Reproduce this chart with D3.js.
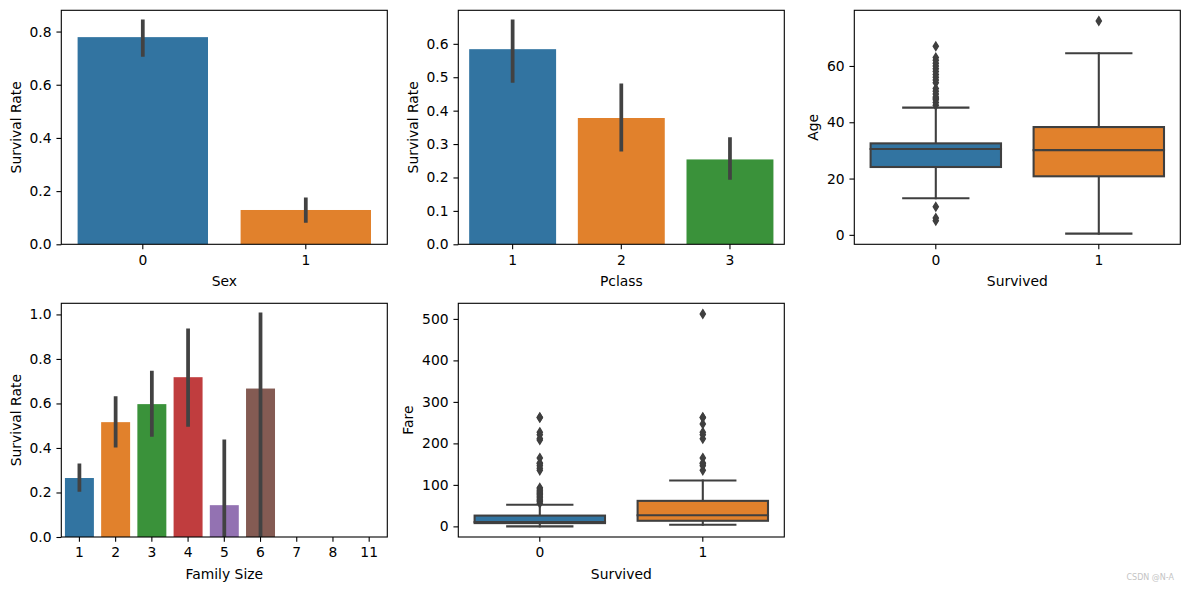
<!DOCTYPE html>
<html><head><meta charset="utf-8">
<script src="https://cdn.jsdelivr.net/npm/d3@7"></script>
<style>
body{margin:0;background:#fff}
svg{display:block}
text{font-family:"DejaVu Sans",sans-serif}
</style>
</head><body>
<svg id="c" width="1189" height="590"></svg>
<script>
// ---------------- data ----------------
const sexCats = ["0", "1"];
const sexRate = [0.779, 0.129];
const sexLo   = [0.712, 0.088];
const sexHi   = [0.838, 0.169];
const sexTicks = [0, 0.2, 0.4, 0.6, 0.8];

const pclassCats = ["1", "2", "3"];
const pclassRate = [0.584, 0.378, 0.254];
const pclassLo   = [0.489, 0.283, 0.199];
const pclassHi   = [0.667, 0.476, 0.315];
const pclassTicks = [0, 0.1, 0.2, 0.3, 0.4, 0.5, 0.6];

const famCats = ["1", "2", "3", "4", "5", "6", "7", "8", "11"];
const famRate = [0.265, 0.516, 0.597, 0.718, 0.143, 0.667, 0, 0, 0];
const famLo   = [0.212, 0.410, 0.459, 0.504, 0, 0, 0, 0, 0];
const famHi   = [0.322, 0.624, 0.739, 0.928, 0.430, 1.0, 0, 0, 0];
const famTicks = [0, 0.2, 0.4, 0.6, 0.8, 1.0];

const survCats = ["0", "1"];
const ageQ1  = [24.1, 20.8];
const ageMed = [30.5, 30.1];
const ageQ3  = [32.5, 38.3];
const ageWLo = [13, 0.42];
const ageWHi = [45.2, 64.5];
const ageOut = [
  [46, 47, 48, 48.5, 49, 50, 51, 52, 54, 55, 56, 57, 58, 59, 60, 61, 62, 63, 67, 10, 6, 5],
  [76]
];
const ageTicks = [0, 20, 40, 60];

const fareQ1  = [7.9, 13.5];
const fareMed = [10.5, 27];
const fareQ3  = [26, 61.5];
const fareWLo = [0, 4];
const fareWHi = [52, 110.5];
const fareOut = [
  [56, 60, 63, 66, 70, 73, 77, 80, 83, 86, 90, 93, 135, 140, 146, 151, 153, 165, 208, 212, 221, 227, 262, 263],
  [135, 146, 151, 153, 165, 211, 221, 227, 247, 262, 263, 512]
];
const fareTicks = [0, 100, 200, 300, 400, 500];

const palette = ["#3274a1", "#e1812c", "#3a923a", "#c03d3e", "#9372b2", "#845b53", "#d684bd", "#7f7f7f", "#a9aa35"];

// ---------------- layout ----------------
const svg = d3.select("#c");
svg.append("rect").attr("width", 1189).attr("height", 590).attr("fill", "#fff");

const FS = 13.89;
const TICK = 4.86;
const GRAY = "#3f3f3f";
const ERR = "#424242";

let clipId = 0;
function makeAxes(box, cats, yDomain, ticks, fmt, xlabel, ylabel, ylabOff) {
  const g = svg.append("g");
  const x = d3.scaleBand().domain(cats).range([box.x0, box.x1]).paddingInner(0).paddingOuter(0);
  const y = d3.scaleLinear().domain(yDomain).range([box.y1, box.y0]);
  const id = "clip" + (clipId++);
  svg.append("clipPath").attr("id", id).append("rect")
    .attr("x", box.x0).attr("y", box.y0).attr("width", box.x1 - box.x0).attr("height", box.y1 - box.y0);
  const marks = g.append("g").attr("clip-path", `url(#${id})`);
  return {g, x, y, marks, finish: () => {
    const ya = g.append("g").attr("transform", `translate(${box.x0},0)`)
      .call(d3.axisLeft(y).tickValues(ticks).tickSize(TICK).tickPadding(TICK).tickFormat(fmt).tickSizeOuter(0));
    const xa = g.append("g").attr("transform", `translate(0,${box.y1})`)
      .call(d3.axisBottom(x).tickSize(TICK).tickPadding(5.6).tickSizeOuter(0));
    [ya, xa].forEach(a => {
      a.select(".domain").remove();
      a.attr("font-size", null).attr("font-family", null);
      a.selectAll("line").attr("stroke", "#000").attr("stroke-width", 1.1);
      a.selectAll("text").attr("fill", "#000").style("font-size", FS + "px");
    });
    g.append("rect").attr("x", box.x0).attr("y", box.y0)
      .attr("width", box.x1 - box.x0).attr("height", box.y1 - box.y0)
      .attr("fill", "none").attr("stroke", "#000").attr("stroke-width", 1.1);
    g.append("text").attr("x", (box.x0 + box.x1) / 2).attr("y", box.y1 + 41.7)
      .attr("text-anchor", "middle").style("font-size", FS + "px").attr("fill", "#000").text(xlabel);
    const lx = box.x0 - ylabOff, ly = (box.y0 + box.y1) / 2;
    g.append("text").attr("transform", `translate(${lx},${ly}) rotate(-90)`)
      .attr("text-anchor", "middle").style("font-size", FS + "px").attr("fill", "#000").text(ylabel);
  }};
}

function barPanel(box, cats, rate, lo, hi, ticks, xlabel, ylabel, ylabOff) {
  const ymax = d3.max(hi) * 1.05;
  const ax = makeAxes(box, cats, [0, ymax], ticks, d3.format(".1f"), xlabel, ylabel, ylabOff);
  const bw = ax.x.bandwidth() * 0.8;
  ax.marks.selectAll("rect.bar").data(cats).join("rect")
    .attr("x", d => ax.x(d) + (ax.x.bandwidth() - bw) / 2)
    .attr("width", bw)
    .attr("y", (d, i) => ax.y(rate[i]))
    .attr("height", (d, i) => ax.y(0) - ax.y(rate[i]))
    .attr("fill", (d, i) => palette[i]);
  ax.marks.selectAll("line.err").data(cats.filter((d, i) => hi[i] > 0)).join("line")
    .attr("x1", d => ax.x(d) + ax.x.bandwidth() / 2)
    .attr("x2", d => ax.x(d) + ax.x.bandwidth() / 2)
    .attr("y1", d => ax.y(lo[cats.indexOf(d)]))
    .attr("y2", d => ax.y(hi[cats.indexOf(d)]))
    .attr("stroke", ERR).attr("stroke-width", 3.75).attr("stroke-linecap", "square");
  ax.finish();
}

function boxPanel(box, cats, q1, med, q3, wlo, whi, outs, ticks, xlabel, ylabel, ylabOff) {
  const all = [].concat(wlo, whi, ...outs);
  const mn = d3.min(all), mx = d3.max(all), m = (mx - mn) * 0.05;
  const ax = makeAxes(box, cats, [mn - m, mx + m], ticks, d3.format("d"), xlabel, ylabel, ylabOff);
  const bw = ax.x.bandwidth() * 0.8;
  cats.forEach((c, i) => {
    const cx = ax.x(c) + ax.x.bandwidth() / 2;
    const G = ax.marks.append("g");
    const lineAttr = sel => sel.attr("stroke", GRAY).attr("stroke-width", 2.08).attr("stroke-linecap", "square");
    G.append("line").attr("x1", cx).attr("x2", cx).attr("y1", ax.y(q1[i])).attr("y2", ax.y(wlo[i])).call(lineAttr);
    G.append("line").attr("x1", cx).attr("x2", cx).attr("y1", ax.y(q3[i])).attr("y2", ax.y(whi[i])).call(lineAttr);
    [wlo[i], whi[i]].forEach(v => {
      G.append("line").attr("x1", cx - bw / 4).attr("x2", cx + bw / 4)
        .attr("y1", ax.y(v)).attr("y2", ax.y(v)).call(lineAttr);
    });
    G.append("rect").attr("x", cx - bw / 2).attr("width", bw)
      .attr("y", ax.y(q3[i])).attr("height", ax.y(q1[i]) - ax.y(q3[i]))
      .attr("fill", palette[i]).attr("stroke", GRAY).attr("stroke-width", 2.08);
    G.append("line").attr("x1", cx - bw / 2).attr("x2", cx + bw / 2)
      .attr("y1", ax.y(med[i])).attr("y2", ax.y(med[i])).call(lineAttr);
    const h = 4.2, w = 2.6;
    G.selectAll("path.fl").data(outs[i]).join("path")
      .attr("d", v => {
        const yy = ax.y(v);
        return `M${cx},${yy - h}L${cx + w},${yy}L${cx},${yy + h}L${cx - w},${yy}Z`;
      })
      .attr("fill", GRAY).attr("stroke", GRAY).attr("stroke-width", 1.39).attr("stroke-linejoin", "miter");
  });
  ax.finish();
}

const P1 = {x0: 61.3, x1: 387.3, y0: 10.3, y1: 244.3};
const P2 = {x0: 458.3, x1: 784.3, y0: 10.3, y1: 244.3};
const P3 = {x0: 854.3, x1: 1180.3, y0: 10.3, y1: 244.3};
const P4 = {x0: 61.3, x1: 387.3, y0: 303.3, y1: 537};
const P5 = {x0: 458.3, x1: 784.3, y0: 303.3, y1: 537};

barPanel(P1, sexCats, sexRate, sexLo, sexHi, sexTicks, "Sex", "Survival Rate", 40.5);
barPanel(P2, pclassCats, pclassRate, pclassLo, pclassHi, pclassTicks, "Pclass", "Survival Rate", 40.5);
boxPanel(P3, survCats, ageQ1, ageMed, ageQ3, ageWLo, ageWHi, ageOut, ageTicks, "Survived", "Age", 36.3);
barPanel(P4, famCats, famRate, famLo, famHi, famTicks, "Family Size", "Survival Rate", 40.5);
boxPanel(P5, survCats, fareQ1, fareMed, fareQ3, fareWLo, fareWHi, fareOut, fareTicks, "Survived", "Fare", 45.1);

svg.append("text").attr("x", 1174).attr("y", 580).attr("text-anchor", "end")
  .style("font-size", "8px").attr("fill", "#c4c4c4").text("CSDN @N-A");
</script>
</body></html>
